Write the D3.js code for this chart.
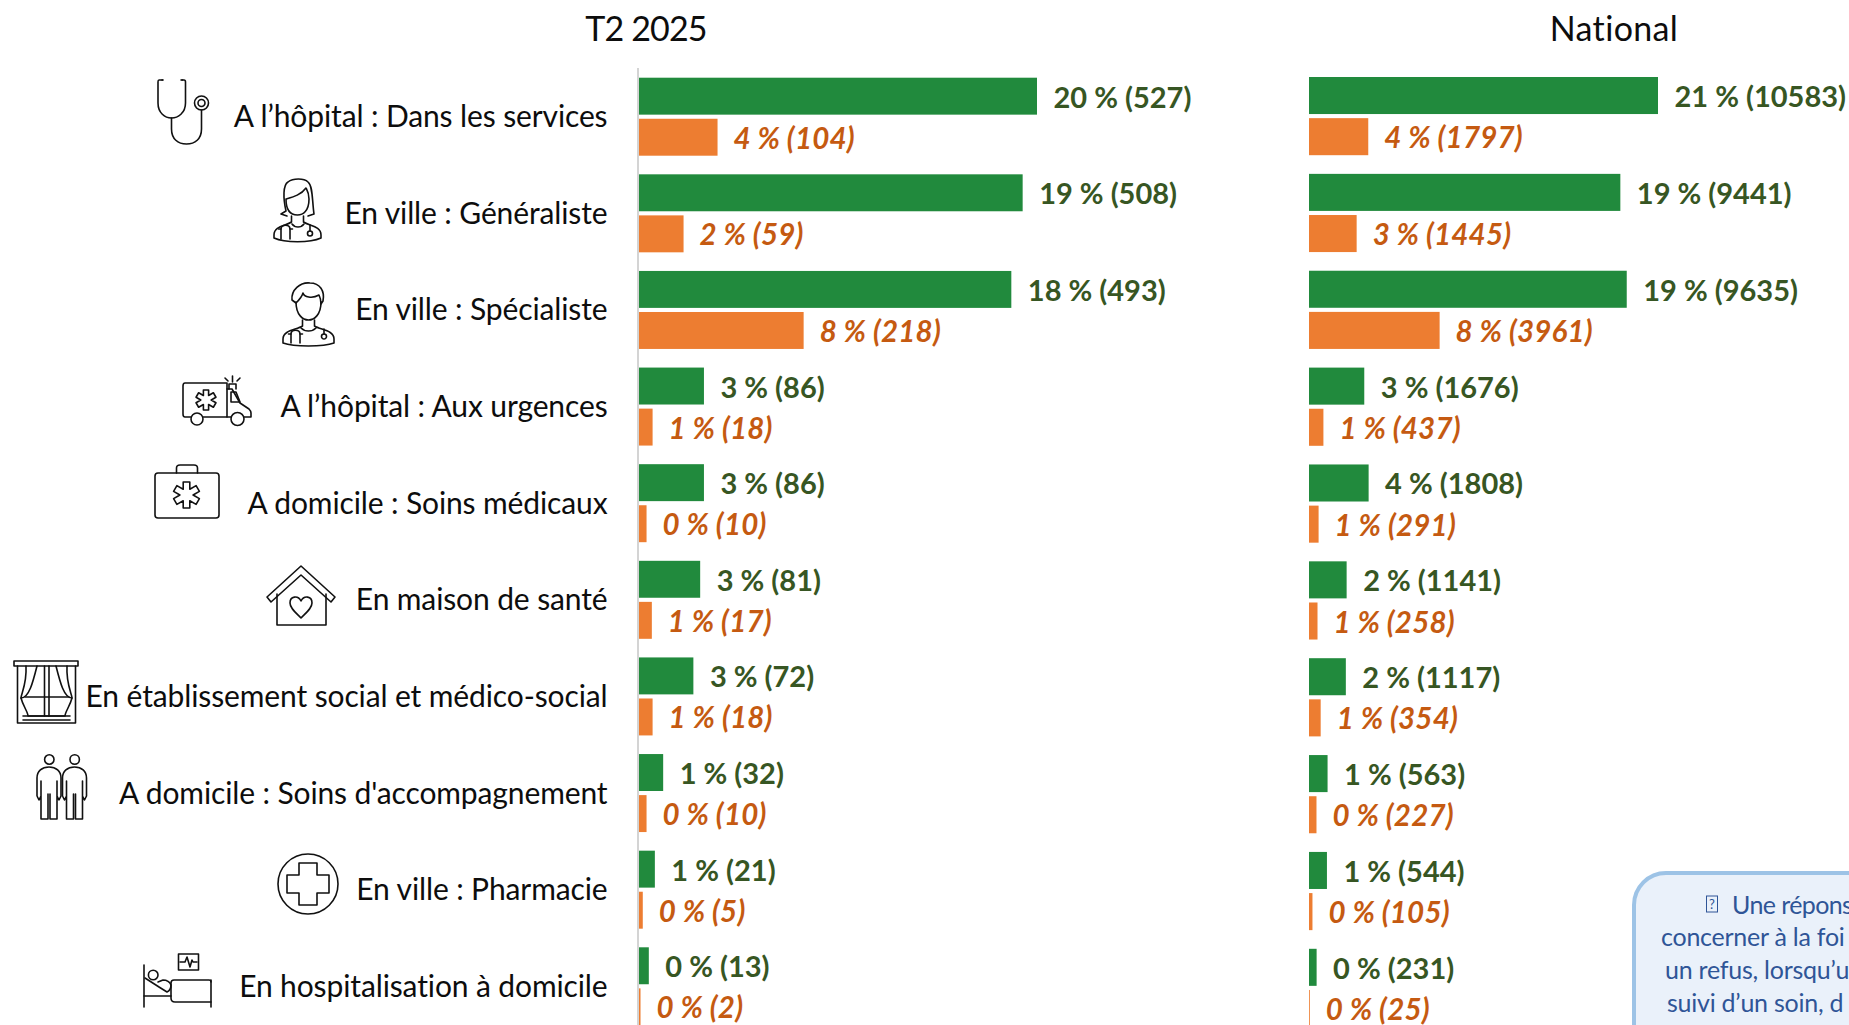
<!DOCTYPE html>
<html lang="fr">
<head>
<meta charset="utf-8">
<script src="https://cdn.jsdelivr.net/npm/d3@7"></script>
<style>
  html,body{margin:0;padding:0;background:#fff;overflow:hidden;}
  svg{display:block;font-family:Lato,"Open Sans",sans-serif;}
  .cat{font-size:30px;fill:#0d0d0d;text-anchor:end;letter-spacing:-.12px;}
  .head{font-size:34px;fill:#0d0d0d;text-anchor:middle;}
  .lab-g{font-size:29px;font-weight:700;fill:#375623;}
  .lab-o{font-size:29.5px;font-weight:700;font-style:italic;fill:#c55a11;letter-spacing:.2px;}
  .note{font-size:25px;fill:#2f5597;letter-spacing:-.25px;}
  .ico{fill:none;stroke:#111;stroke-width:1.6;stroke-linejoin:round;stroke-linecap:round;}
</style>
</head>
<body>
<svg id="chart"></svg>
<script>
/* Lieux de soins : deux panneaux (T2 2025, National), barres vertes et orange par lieu. */
var categories=["A l’hôpital : Dans les services","En ville : Généraliste","En ville : Spécialiste","A l’hôpital : Aux urgences","A domicile : Soins médicaux","En maison de santé","En établissement social et médico-social","A domicile : Soins d'accompagnement","En ville : Pharmacie","En hospitalisation à domicile"];
var iconNames=["stetho","femme","homme","ambulance","mallette","maison","rideau","duo","pharmacie","lit"];

var t2Green=[527,508,493,86,86,81,72,32,21,13];
var t2GreenPct=[20,19,18,3,3,3,3,1,1,0];
var t2Orange=[104,59,218,18,10,17,18,10,5,2];
var t2OrangePct=[4,2,8,1,0,1,1,0,0,0];

var natGreen=[10583,9441,9635,1676,1808,1141,1117,563,544,231];
var natGreenPct=[21,19,19,3,4,2,2,1,1,0];
var natOrange=[1797,1445,3961,437,291,258,354,227,105,25];
var natOrangePct=[4,3,8,1,1,1,1,0,0,0];

var noteLines=["Une répons","concerner à la foi","un refus, lorsqu’u","suivi d’un soin, d"];

var W=1849,H=1025;
var svg=d3.select("#chart").attr("width",W).attr("height",H).attr("viewBox","0 0 "+W+" "+H);
svg.append("rect").attr("width",W).attr("height",H).attr("fill","#fff");

function panel(title,titleX,titleSpacing,green,greenPct,orange,orangePct,x,top,bottom,showAxis){
    var y=d3.scaleBand().domain(categories).range([top,bottom]).paddingInner(0.1927);
    var inner=d3.scaleBand().domain(["green","orange"]).range([0,y.bandwidth()]).paddingInner(0.1);
    var rows=categories.map(function(c,i){return {cat:c,g:green[i],gp:greenPct[i],o:orange[i],op:orangePct[i]};});
    var g=svg.append("g");
    svg.append("text").attr("class","head").attr("x",titleX).attr("y",41).style("letter-spacing",titleSpacing+"px").text(title);
    if(showAxis){
        g.append("line").attr("x1",x(0)-1).attr("x2",x(0)-1).attr("y1",68).attr("y2",H).attr("stroke","#d4d4d4").attr("stroke-width",2);
    }
    g.selectAll("rect.g").data(rows).enter().append("rect").attr("class","g")
        .attr("x",x(0)).attr("y",function(d){return y(d.cat)+inner("green");})
        .attr("width",function(d){return x(d.g)-x(0);}).attr("height",inner.bandwidth()).attr("fill","#218a3d");
    g.selectAll("rect.o").data(rows).enter().append("rect").attr("class","o")
        .attr("x",x(0)).attr("y",function(d){return y(d.cat)+inner("orange");})
        .attr("width",function(d){return x(d.o)-x(0);}).attr("height",inner.bandwidth()).attr("fill","#ed7d31");
    g.selectAll("text.lab-g").data(rows).enter().append("text").attr("class","lab-g")
        .attr("x",function(d){return x(d.g)+16.5;}).attr("y",function(d){return y(d.cat)+inner("green")+inner.bandwidth()/2+11.5;})
        .text(function(d){return d.gp+" % ("+d.g+")";});
    g.selectAll("text.lab-o").data(rows).enter().append("text").attr("class","lab-o")
        .attr("x",function(d){return x(d.o)+16;}).attr("y",function(d){return y(d.cat)+inner("orange")+inner.bandwidth()/2+11.5;})
        .text(function(d){return d.op+" % ("+d.o+")";});
    return y;
}

var xT2=d3.scaleLinear().domain([0,527]).range([639,1037]);
var xNat=d3.scaleLinear().domain([0,10583]).range([1309,1658]);
panel("T2 2025",646,-0.85,t2Green,t2GreenPct,t2Orange,t2OrangePct,xT2,77.7,1025.3,true);
panel("National",1614,0.35,natGreen,natGreenPct,natOrange,natOrangePct,xNat,77,1027,false);

/* libellés à gauche */
var yCat=d3.scaleBand().domain(categories).range([127-96.67/2,127+96.67*9.5]);
svg.append("g").selectAll("text").data(categories).enter().append("text").attr("class","cat")
    .attr("x",607.5).attr("y",function(d){return yCat(d)+yCat.bandwidth()/2;}).text(function(d){return d;});

/* pictogrammes au trait */
function starPath(cx,cy,r,w){
    var pts=[],i,a,ca,sa;
    for(i=0;i<6;i++){
        a=Math.PI/3*i-Math.PI/2; ca=Math.cos(a); sa=Math.sin(a);
        pts.push([cx+r*ca+w*sa,cy+r*sa-w*ca].join(","));
        pts.push([cx+r*ca-w*sa,cy+r*sa+w*ca].join(","));
        var b=a+Math.PI/6, k=w*2;
        pts.push([cx+k*Math.cos(b),cy+k*Math.sin(b)].join(","));
    }
    return "M"+pts.join("L")+"Z";
}
function personBody(w){
    return "M"+(w/2-6)+" 38V44C"+(w/2-12)+" 48 1 48 1 57V"+(w>50?61:60)+"C12 65 "+(w-12)+" 65 "+(w-1)+" "+(w>50?61:60)+"V57C"+(w-1)+" 48 "+(w/2+12)+" 48 "+(w/2+6)+" 44V38";
}
function standing(dx){
    return "M"+(1+dx)+" 42V24C"+(1+dx)+" 17 "+(6+dx)+" 13 "+(13+dx)+" 13C"+(20+dx)+" 13 "+(25+dx)+" 17 "+(25+dx)+" 24V42L"+(23+dx)+" 46L"+(21+dx)+" 42V27"
        +"M"+(1+dx)+" 42L"+(3+dx)+" 46L"+(5+dx)+" 42V27M"+(5+dx)+" 42V65H"+(12+dx)+" V40M"+(14+dx)+" 40V65H"+(21+dx)+" V42";
}
var icons={
    stetho:{x:157,y:77,paths:["M6 3H2Q1 3 1 5V26C1 36 8 41 14.5 41C21 41 28.5 36 28.5 26V5Q28.5 3 27 3H24","M14.5 41V52C14.5 62 21 67 29.5 67C38 67 44.5 62 44.5 52V33","M51.5 26a7 7 0 1 1-14 0a7 7 0 1 1 14 0","M48 26a3.5 3.5 0 1 1-7 0a3.5 3.5 0 1 1 7 0","M5 3h.6","M25 3h.6"]},
    femme:{x:273,y:178,paths:[personBody(49),"M13 33C10 20 10 7 15 4C20 0 31 0 35 4C40 8 39 22 41 36L35 38M13 33L8 36L14 38","M13 21C13 34 19 37 24.5 37C30 37 36 33 36 21C36 15 34 12 33 10C28 17 20 19 13 21Z","M8 61V51C8 46 17 46 17 51V61","M8 51H5.5M17 51H19.5","M37 47V53","M37 58a2.5 2.5 0 1 1 0-5a2.5 2.5 0 1 1 0 5","M19 46C22 50 28 50 31 46"]},
    homme:{x:282,y:282,paths:[personBody(53),"M14 20C14 33 21 38 26.5 38C32 38 39 33 39 20","M14 21L10 18C9 8 18 0 28 1C38 1 43 9 41 19L39 22C39 17 38 15 37 13C30 17 22 15 21 11C20 15 17 18 14 21Z","M9 61V52C9 47 18 47 18 52V61","M9 52H6.5M18 52H20.5","M42 47V52","M42 57a2.5 2.5 0 1 1 0-5a2.5 2.5 0 1 1 0 5","M19 46C23 50 30 50 34 46"]},
    ambulance:{x:182,y:377,paths:["M9 40H3Q1 40 1 37V9Q1 6 3 6H45V40H21","M45 12H50L58 26L67 32Q69 34 69 36V40H62","M45 40H49","M49 15H54L58 25H49Z","M47 12V7H54V12","M50.5 5V-1M43 1L46 4M58 1L55 4","M21 42a6 6 0 1 1-12 0a6 6 0 1 1 12 0","M62 42a6.5 6.5 0 1 1-13 0a6.5 6.5 0 1 1 13 0",starPath(24,23,10,2.6)]},
    mallette:{x:154,y:464,paths:["M4 9H62Q65 9 65 12V51Q65 54 62 54H4Q1 54 1 51V12Q1 9 4 9Z","M22.5 9V4Q22.5 1 26 1H40Q43.5 1 43.5 4V9",starPath(32.5,31,13,3.3)]},
    maison:{x:267,y:566,paths:["M34 0L0 31L4 36L34 9L64 36L68 31Z","M10 28V59H59V28","M34 52C28 46 23 42 23 37C23 30 31 29 34 35C37 29 45 30 45 37C45 42 40 46 34 52Z"]},
    rideau:{x:13,y:660,paths:["M1 1H65V6H1Z","M4.5 6V63H62.5V6","M31.5 6V56M36 6V56","M13 6C14 24 8 34 8 38C10 46 15 52 15 56H52C52 52 57 46 59 38C59 34 53 24 54 6","M8 38C16 38 20 22 24 6M59 38C51 38 47 22 43 6","M12 37H56","M10 56H57M10 60H57"]},
    duo:{x:36,y:754,paths:["M18 5.5a4.7 4.7 0 1 1-9.4 0a4.7 4.7 0 1 1 9.4 0","M43.4 5.5a4.7 4.7 0 1 1-9.4 0a4.7 4.7 0 1 1 9.4 0",standing(0),standing(25.5)]},
    pharmacie:{x:277,y:853,paths:["M61 31a30 30 0 1 1-60 0a30 30 0 1 1 60 0","M22 10H40V22H52V40H40V52H22V40H10V22H22Z"]},
    lit:{x:143,y:954,paths:["M35.5 0H55.5V16H35.5Z","M37 8H42L44 3L47 13L49 6L50 8H54","M1 11V53","M68 26V53","M68 48H32Q28 48 28 44V29Q28 26 31 26H66Q68 26 68 28","M1 42H28","M15 21a4.8 4.8 0 1 1-9.6 0a4.8 4.8 0 1 1 9.6 0","M2 24L16 33L24 38Q28 36 28 31Q26 26 20 26L15 28"]}
};
var icoLayer=svg.append("g");
iconNames.forEach(function(n){
    var ic=icons[n];
    var g=icoLayer.append("g").attr("class","ico").attr("transform","translate("+ic.x+","+ic.y+")");
    g.selectAll("path").data(ic.paths).enter().append("path").attr("d",function(d){return d;});
});

/* encadré en bas à droite, coupé par le bord de page */
var note=svg.append("g");
note.append("rect").attr("x",1634).attr("y",873).attr("width",330).attr("height",260).attr("rx",32)
    .attr("fill","#eaf1fa").attr("stroke","#9dc3e6").attr("stroke-width",4);
note.append("rect").attr("x",1706.5).attr("y",896).attr("width",11).attr("height",16).attr("fill","none").attr("stroke","#2f5597").attr("stroke-width",1);
note.append("text").attr("x",1712).attr("y",909).attr("text-anchor","middle").attr("font-size",13).attr("fill","#2f5597").text("?");
var noteX=[1732,1661,1665,1667],noteY=[914,946,979,1012];
note.selectAll("text.note").data(noteLines).enter().append("text").attr("class","note")
    .attr("x",function(d,i){return noteX[i];}).attr("y",function(d,i){return noteY[i];})
    .style("letter-spacing",function(d,i){return i===0?"-.6px":null;}).text(function(d){return d;});
</script>
</body>
</html>
